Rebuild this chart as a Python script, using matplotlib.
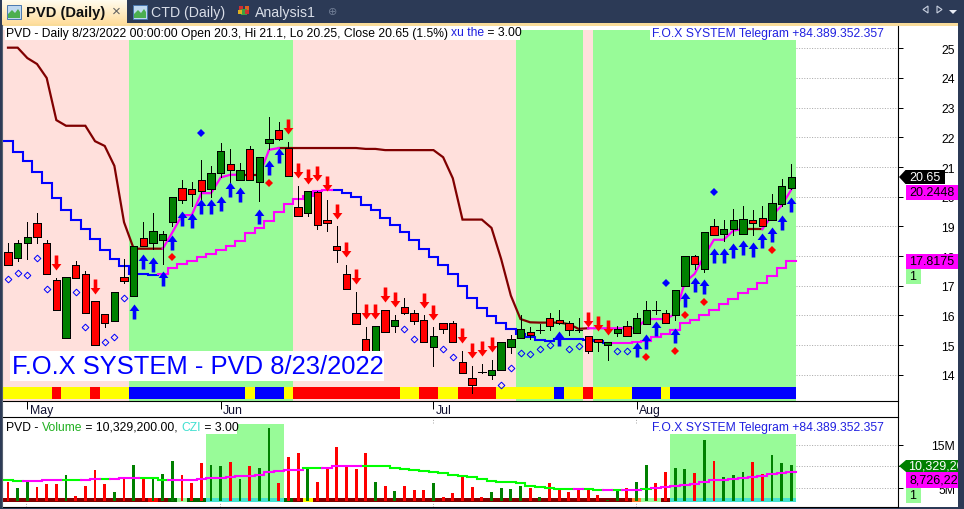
import numpy as np
import matplotlib
matplotlib.use("Agg")
import matplotlib.pyplot as plt
from matplotlib.path import Path
from matplotlib.patches import Rectangle, Polygon
from matplotlib.transforms import blended_transform_factory

plt.rcParams['font.family'] = ['Liberation Sans', 'DejaVu Sans']

# ---------- data ----------
months = ["May", "Jun", "Jul", "Aug"]
month_bars = [2, 22, 44, 65]
price_ticks = [14, 15, 16, 17, 18, 19, 20, 21, 22, 23, 24, 25]
vol_ticks = [5, 10, 15]
vol_tick_labels = ["5M", "10M", "15M"]

opens = [18.15,17.95,18.45,19.1,18.45,17.2,15.25,17.7,17.4,16.5,
 16.05,15.8,17.3,16.65,18.6,18.45,18.55,19.15,20.3,20.25,
 20.55,20.25,20.8,21.1,20.55,21.6,20.5,21.8,22.25,21.65,
 19.65,19.45,20.15,19.2,18.35,17.4,16.1,15.2,14.7,16.2,
 15.65,16.3,16.1,15.85,14.95,15.75,15.75,14.45,13.9,14.1,
 14.0,14.15,14.95,15.25,15.45,15.5,15.9,15.85,15.75,15.5,
 15.3,15.2,15.0,15.4,15.65,15.4,15.7,16.2,16.1,16.0,
 17.0,18.0,17.55,19.0,18.75,18.9,18.75,19.2,19.3,19.2,19.75,20.3]
closes = [17.7,18.45,18.65,18.65,17.4,16.2,17.3,17.25,16.1,15.0,
 15.75,16.8,17.15,18.35,18.35,18.85,18.75,20.0,19.9,20.1,
 20.2,20.8,21.55,20.9,20.9,20.55,21.35,21.95,21.95,20.7,
 19.35,20.2,19.05,19.1,18.2,16.9,15.7,14.7,15.65,15.45,
 15.85,16.1,15.8,15.1,15.3,15.55,15.1,14.05,13.65,14.1,
 14.15,15.1,15.2,15.55,15.35,15.5,15.65,15.75,15.5,15.5,
 14.8,15.1,15.1,15.55,15.3,15.9,16.2,16.2,15.75,16.85,
 18.0,17.75,18.8,18.7,18.9,19.2,19.25,19.1,19.0,19.8,20.35,20.65]
highs = [18.45,18.55,19.15,19.45,18.55,17.25,17.3,17.85,17.5,16.5,
 16.05,16.8,17.9,18.35,19.15,19.45,18.85,20.0,20.55,20.5,
 21.25,21.05,21.8,21.6,21.15,21.7,21.35,22.7,22.5,21.85,
 20.35,20.2,20.2,19.9,19.0,17.7,16.8,15.6,15.65,16.2,
 16.0,16.6,16.2,16.0,15.6,15.75,15.8,14.8,14.3,14.35,
 14.5,15.1,15.35,16.0,15.6,15.7,16.1,16.2,15.8,15.9,
 15.3,15.2,15.1,15.65,15.8,16.1,16.5,16.5,16.2,16.85,
 18.0,18.05,18.8,19.25,19.2,19.6,19.7,19.55,19.7,20.1,20.6,21.1]
lows = [17.7,17.85,17.9,18.45,17.4,16.2,15.25,17.25,16.1,15.0,
 15.6,15.8,17.1,16.65,18.35,18.25,17.75,19.0,19.8,19.7,
 19.7,20.0,20.65,20.5,20.55,20.55,19.85,21.6,21.9,20.7,
 19.35,19.35,18.9,18.85,17.8,16.9,15.7,14.7,14.7,15.45,
 15.45,16.05,15.7,15.1,14.3,15.4,15.1,14.05,13.4,14.05,
 13.85,14.15,14.75,15.25,15.2,15.4,15.5,15.7,15.35,15.45,
 14.75,14.8,14.5,15.3,15.3,15.4,15.7,16.05,15.75,15.85,
 17.0,17.55,17.45,18.7,18.5,18.7,18.75,18.7,19.0,19.2,19.7,20.25]

upper_line = [25.02,25.02,24.67,24.47,24.0,22.58,22.39,22.39,22.39,21.87,
 21.71,21.04,19.14,18.25,18.25,18.25,18.25,18.8,19.38,19.38,
 20.12,20.12,20.65,20.74,20.74,20.74,20.74,21.58,21.64,21.64,
 21.64,21.64,21.64,21.64,21.64,21.64,21.64,21.61,21.61,21.57,
 21.57,21.57,21.57,21.57,21.57,21.33,20.62,19.23,19.23,19.23,
 18.95,17.9,16.67,15.88,15.77,15.76,15.76,15.76,15.71,15.55,
 15.57,15.57,15.57,15.57,15.57,15.57,15.88,15.88,15.88,16.05,
 17.12,17.4,18.01,18.55,18.55,18.86,18.91,18.91,18.91,19.36,19.7,20.24]
lower_line = [21.89,21.52,21.2,20.84,20.45,19.96,19.56,19.23,18.91,18.58,
 18.22,17.9,17.66,17.4,17.4,17.36,17.4,17.6,17.73,17.85,
 17.96,18.07,18.22,18.33,18.52,18.78,18.95,19.17,19.47,19.75,
 19.92,20.03,20.2,20.23,20.23,20.13,19.99,19.72,19.54,19.29,
 19.05,18.81,18.54,18.25,17.98,17.71,17.4,17.0,16.59,16.25,
 15.98,15.75,15.55,15.38,15.27,15.19,15.15,15.21,15.21,15.21,
 15.19,15.15,15.07,15.07,15.07,15.12,15.15,15.27,15.38,15.51,
 15.74,15.86,16.03,16.2,16.39,16.56,16.75,16.89,17.08,17.32,17.59,17.82]

upper_dark_runs = [(0,16),(24,26),(28,60),(76,78)]
upper_pink_runs = [(16,24),(26,28),(60,76),(78,81)]
lower_blue_runs = [(0,15),(34,62)]
lower_pink_runs = [(16,33),(63,81)]

up_bars = [13,14,15,16,17,18,19,20,21,22,23,24,26,27,28,57,65,66,67,69,70,71,72,73,74,75,76,77,78,79,80,81]
up_tips = [16.38,18.07,17.98,17.51,18.71,19.53,19.44,19.92,19.92,20.03,20.48,20.32,19.59,21.24,21.64,
           15.47,15.12,15.38,15.8,15.57,16.78,17.29,17.23,18.27,18.27,18.43,18.54,18.46,18.78,18.97,19.38,20.0]
down_bars = [5,9,29,30,31,32,33,34,35,36,37,38,39,40,43,44,47,48,49,50,60,61,62]
down_tips = [17.54,16.72,22.11,20.63,20.43,20.53,20.2,19.25,17.97,17.06,15.88,15.88,16.46,16.29,16.25,15.85,
             15.07,14.58,14.65,14.78,15.62,15.49,15.35]
red_dia_bars = [17,27,66,69,70,72,79]
red_dia_vals = [17.97,20.46,14.6,14.82,16.03,16.46,18.22]
blue_dia_bars = [20,68,73]
blue_dia_vals = [22.14,17.1,20.17]
hollow_bars = [0,1,2,3,4,7,8,10,11,12,41,42,45,46,51,52,53,54,55,56,58,59,63,64]
hollow_vals = [17.24,17.43,17.36,17.95,16.89,16.79,15.61,15.11,15.29,16.59,15.55,15.21,14.87,14.6,
               13.66,14.24,14.74,14.71,14.87,15.0,14.87,14.98,14.82,14.82]

main_green_runs = [(13,29),(53,59),(61,81)]
strip_state = list("yyyyyryyyryyy"+"bbbbbbbbbbbb"+"y"+"bbb"+"y"+"rrrrrrrrrrr"+"yy"+"rr"+"yy"+"rrrr"+
                   "yyyyyy"+"b"+"yy"+"r"+"yyyy"+"bbb"+"y"+"bbbbbbbbbbbbb")

volume = [6.47,5.01,6.63,5.24,5.94,5.94,8.01,3.16,5.47,9.17,
 5.94,4.09,7.55,10.32,7.32,7.55,8.24,11.25,8.01,6.17,
 10.79,10.32,10.09,11.02,7.09,10.09,9.63,18.87,6.17,12.17,
 13.09,9.56,6.4,9.56,14.48,9.86,9.4,13.09,6.4,5.47,
 4.32,5.47,4.55,4.55,6.17,2.93,3.86,7.55,5.24,2.93,
 4.09,5.01,4.78,5.47,5.01,2.93,6.17,5.01,4.09,5.01,
 4.78,3.39,2.24,4.78,5.01,6.4,10.32,6.17,8.71,9.63,
 9.4,8.48,16.1,11.25,7.55,8.01,8.71,11.02,8.24,12.63,10.79,10.33]
vol_dir = list("rggrrrgrrr"+"rgrgrgggrr"+"rggrgrggrr"+"rgrrrrrrgr"+"grrrgrrrrr"+
               "ggggrgrrrr"+"rrggrggrrg"+"grgrgggrrggg")
vol_ma = [6.86,6.71,6.63,6.63,6.86,6.86,6.86,6.86,6.86,7.09,
 7.09,7.09,7.32,7.32,7.32,7.32,6.86,6.86,6.86,6.86,
 7.09,7.32,7.32,7.55,7.78,7.78,8.01,8.71,8.94,9.17,
 9.17,9.63,9.63,9.63,10.09,10.09,10.09,10.09,10.09,10.09,
 9.63,9.4,9.17,8.94,8.71,8.48,8.01,7.78,7.55,7.09,
 6.63,6.4,6.4,6.17,5.47,5.24,5.01,4.78,4.78,4.78,
 4.78,4.55,4.55,4.55,4.55,4.55,4.78,5.01,5.24,5.47,
 5.7,5.94,6.4,6.86,6.86,7.09,7.32,7.55,7.78,8.24,8.48,8.73]
vol_ma_lime_runs = [(0,1),(6,7),(10,10),(14,16),(31,32),(37,58),(60,61),(63,63),(66,66)]
vol_ma_pink_runs = [(2,5),(8,9),(11,13),(17,30),(33,36),(59,59),(62,62),(64,65),(67,81)]
vol_green_runs = [(21,28),(69,81)]
czi_state = list("d"*15+"r"+"d"+"g"+"l"+"gg"+"t"*8+"g"+"d"+"y"+"d"*33+"o"+"ll"+"d"+"t"*13)

# ---------- layout ----------
W, H = 964, 510
STEP = 9.67
X0 = 8.0
fig = plt.figure(figsize=(W/100, H/100), dpi=100, facecolor="#2C3A56")

def axpos(x0, y0, x1, y1, **kw):
    return fig.add_axes([x0/W, 1-y1/H, (x1-x0)/W, (y1-y0)/H], **kw)

def hide(ax):
    for s in ax.spines.values():
        s.set_visible(False)

bars = np.arange(len(opens))
xlim = ((3-X0)/STEP, (898-X0)/STEP)
price_lim = (13.12, 25.75)
vol_lim = (0.62, 21.18)

# base chrome
bg = axpos(0, 0, W, H, zorder=0)
bg.set_xlim(0, W); bg.set_ylim(H, 0); bg.axis("off")
bg.add_patch(Rectangle((2, 26), 956, 482, fc="white", ec="none"))
bg.add_patch(Rectangle((2, 24), 956, 2.5, fc="#F9DC9A", ec="none"))
grad = np.linspace(0, 1, 24).reshape(-1, 1, 1)
tab = np.array([1.0, 0.985, 0.93]) * (1-grad) + np.array([1.0, 0.87, 0.62]) * grad
bg.imshow(tab, extent=(2, 127, 25, 1), aspect="auto", zorder=1)
bg.set_xlim(0, W); bg.set_ylim(H, 0)

def chart_icon(a, x):
    a.add_patch(Rectangle((x, 6), 14, 14, fc="#BFD8F0", ec="#4A78B0", lw=0.7, zorder=3))
    a.add_patch(Polygon([(x+1, 19), (x+1, 15), (x+5, 11), (x+8, 14), (x+11, 10), (x+13, 13), (x+13, 19)],
                        fc="#4CAF50", ec="none", zorder=4))
chart_icon(bg, 7)
chart_icon(bg, 133)
bg.scatter([241, 247, 244, 240, 247], [9, 9, 13, 13, 13], s=[12, 12, 14, 8, 8],
           c=["#D03030", "#E06020", "#40A040", "#E0B020", "#D03030"], zorder=3, marker="s", linewidths=0)
bg.text(26, 13, "PVD (Daily)", fontsize=10.6, fontweight="bold", color="#101010", va="center")
bg.text(116.5, 12, "×", fontsize=11, color="#606060", va="center", ha="center")
bg.text(151, 13, "CTD (Daily)", fontsize=10.2, color="#D9DEE8", va="center")
bg.text(255, 13, "Analysis1", fontsize=10.2, color="#D9DEE8", va="center")
bg.text(333, 12, "⊕", fontsize=8, color="#6F7C94", va="center", ha="center", family="DejaVu Sans")
bg.add_patch(Polygon([(928, 7), (928, 14), (923, 10.5)], fc="none", ec="#C8D0E0", lw=0.8))
bg.add_patch(Polygon([(937, 7), (937, 14), (942, 10.5)], fc="none", ec="#C8D0E0", lw=0.8))
bg.add_patch(Polygon([(949, 11), (957, 11), (953, 15)], fc="#E8ECF4", ec="none"))

# ---------- main pane ----------
ax = axpos(3, 27, 898, 402, zorder=1, facecolor="none")
hide(ax)
ax.set_xlim(*xlim); ax.set_ylim(*price_lim)
ax.yaxis.tick_right()
ax.set_yticks(price_ticks)
ax.set_yticklabels([str(t) for t in price_ticks], fontsize=8.8)
ax.tick_params(axis="y", length=3.6, width=0.72, pad=37.5, color="black")
for lab in ax.get_yticklabels():
    lab.set_ha("right")
ax.set_xticks([])
ax.hlines(price_ticks, 81.5, xlim[1], colors="#AAAAAA", linestyles=(0, (1, 1.6)), lw=0.72, zorder=0.5)

band_top = 0.989
ax.axvspan(xlim[0], 81.5, ymin=0, ymax=band_top, fc="#FFE0DC", ec="none", zorder=1)
for a, b in main_green_runs:
    ax.axvspan(a-0.5, b+0.5, ymin=0, ymax=band_top, fc="#98FB98", ec="none", zorder=1.1)

strip_cols = {"y": "#FFFF00", "r": "#FF0000", "b": "#0000FF"}
ax.bar(bars, 0.40, bottom=13.19, width=1.0, color=[strip_cols[s] for s in strip_state],
       linewidth=0, zorder=1.5, antialiased=False)

def step_run(x, y, a, b):
    xs = np.repeat(np.arange(a, b+2)-0.5, 2)[1:-1]
    ys = np.repeat(np.asarray(y)[a:b+1], 2)
    return xs, ys

LW = 1.5
for a, b in upper_dark_runs:
    ax.plot(bars[a:b+1], upper_line[a:b+1], color="#800000", lw=1.6, zorder=2, solid_joinstyle="miter")
for a, b in upper_pink_runs:
    ax.plot(bars[a:b+1], upper_line[a:b+1], color="#FF00FF", lw=1.6, zorder=2, solid_joinstyle="miter")
for a, b in lower_blue_runs:
    ax.plot(*step_run(bars, lower_line, a, b), color="#0000FF", lw=LW, zorder=2, solid_joinstyle="miter")
for a, b in lower_pink_runs:
    ax.plot(*step_run(bars, lower_line, a, b), color="#FF00FF", lw=LW, zorder=2, solid_joinstyle="miter")

# candles
ax.vlines(bars, lows, highs, colors="black", lw=0.72, zorder=3, antialiased=False)
body_cols = ["#008000" if c > o else "#FF0000" for o, c in zip(opens, closes)]
ax.bar(bars, np.array(closes)-np.array(opens), bottom=opens, width=0.76, color=body_cols,
       edgecolor="black", linewidth=0.72, zorder=3.2, antialiased=False)

# signals
up_path = Path([(0, 0), (4.9, -6.5), (1.8, -6.5), (1.8, -15), (-1.8, -15), (-1.8, -6.5), (-4.9, -6.5), (0, 0)], closed=True)
down_path = Path([(0, 0), (4.9, 6.5), (1.8, 6.5), (1.8, 15), (-1.8, 15), (-1.8, 6.5), (-4.9, 6.5), (0, 0)], closed=True)
ax.plot(up_bars, up_tips, ls="", marker=up_path, ms=21.6, mfc="#0000FF", mew=0, zorder=4)
ax.plot(down_bars, down_tips, ls="", marker=down_path, ms=21.6, mfc="#FF0000", mew=0, zorder=4)
ax.plot(red_dia_bars, red_dia_vals, ls="", marker="D", ms=3.6, mfc="#FF0000", mew=0, zorder=4)
ax.plot(blue_dia_bars, blue_dia_vals, ls="", marker="D", ms=3.6, mfc="#0000FF", mew=0, zorder=4)
ax.plot(hollow_bars, hollow_vals, ls="", marker="D", ms=3.4, mfc="none", mec="#0000FF", mew=0.72, zorder=4)

# ---------- date strip ----------
dax = axpos(3, 402, 898, 418, zorder=1, facecolor="none")
hide(dax)
dax.set_xlim(*xlim); dax.set_ylim(0, 1)
dax.set_yticks([])
dax.set_xticks(month_bars)
dax.tick_params(axis="x", direction="in", top=True, bottom=False, labelbottom=False, length=5.8, width=0.72)
tr = blended_transform_factory(dax.transData, dax.transAxes)
for m, b in zip(months, month_bars):
    dax.annotate(m, xy=(b, 0.46), xycoords=tr, xytext=(1.6, 0), textcoords="offset points",
                 fontsize=8.8, va="center", color="#101030")

# ---------- volume pane ----------
vax = axpos(3, 419, 898, 508, zorder=1, facecolor="none")
hide(vax)
vax.set_xlim(*xlim); vax.set_ylim(*vol_lim)
vax.yaxis.tick_right()
vax.set_yticks(vol_ticks)
vax.set_yticklabels(vol_tick_labels, fontsize=8.8)
vax.tick_params(axis="y", length=3.6, width=0.72, pad=37.5)
for lab in vax.get_yticklabels():
    lab.set_ha("right")
vax.set_xticks([])
vax.hlines(vol_ticks, 81.5, xlim[1], colors="#AAAAAA", linestyles=(0, (1, 1.6)), lw=0.72, zorder=0.5)
vtr = blended_transform_factory(vax.transData, vax.transAxes)
for b in month_bars:
    vax.plot([b-0.1, b-0.1], [0, 0.05], transform=vtr, color="#AAAAAA", ls=(0, (1, 1.6)), lw=0.72, zorder=0.5)
    vax.plot([b-0.1, b-0.1], [0.94, 1.0], transform=vtr, color="#AAAAAA", ls=(0, (1, 1.6)), lw=0.72, zorder=0.5)
for a, b in vol_green_runs:
    vax.axvspan(a-0.5, b+0.5, ymin=0.056, ymax=0.933, fc="#98FB98", ec="none", zorder=1)
czi_cols = {"d": "#800000", "r": "#FF0000", "g": "#006400", "l": "#98FB98", "t": "#40E0D0",
            "y": "#FFFF00", "o": "#FF7F27"}
vax.bar(bars, 0.92, bottom=1.78, width=1.0, color=[czi_cols[s] for s in czi_state], linewidth=0,
        zorder=1.5, antialiased=False)
vol_base = 2.0
vol_cols = ["#FF0000" if d == "r" else "#008000" for d in vol_dir]
vax.bar(bars, np.array(volume)-vol_base, bottom=vol_base, width=0.29, color=vol_cols, linewidth=0,
        zorder=2, antialiased=False)
for a, b in vol_ma_lime_runs:
    vax.plot(*step_run(bars, vol_ma, a, b), color="#00FF00", lw=LW, zorder=3, solid_joinstyle="miter")
for a, b in vol_ma_pink_runs:
    vax.plot(*step_run(bars, vol_ma, a, b), color="#FF00FF", lw=LW, zorder=3, solid_joinstyle="miter")

# ---------- overlay ----------
ov = axpos(0, 0, W, H, zorder=5, facecolor="none")
ov.set_xlim(0, W); ov.set_ylim(H, 0); ov.axis("off")

ov.plot([898, 898], [27, 508], color="black", lw=0.8)
for yy in (401.5, 418, 508):
    ov.plot([3, 898], [yy, yy], color="black", lw=0.8)
ov.plot([1.6, 1.6], [26, 508], color="#556070", lw=0.8)

TXT = 8.75
def text_runs(x, y, runs, size=TXT):
    r = fig.canvas.get_renderer()
    for s, c in runs:
        t = ov.text(x, y, s, fontsize=size, color=c, va="center", ha="left", zorder=6)
        x += t.get_window_extent(r).width

ov.add_patch(Rectangle((5, 27), 515, 14, fc="white", ec="none", zorder=5))
ov.add_patch(Rectangle((650, 27), 235, 14, fc="white", ec="none", zorder=5))
text_runs(6, 33.5, [("PVD - Daily 8/23/2022 00:00:00 Open 20.3, Hi 21.1, Lo 20.25, Close 20.65 (1.5%) ", "black"),
                    ("xu the", "#1E1EE0"), (" = 3.00", "black")], size=8.7)
ov.text(652, 33.5, "F.O.X SYSTEM Telegram +84.389.352.357", fontsize=TXT, color="#2020E0", va="center", zorder=6)

ov.add_patch(Rectangle((5, 421), 232, 14, fc="white", ec="none", zorder=5))
ov.add_patch(Rectangle((650, 421), 235, 14, fc="white", ec="none", zorder=5))
text_runs(6, 428, [("PVD - ", "black"), ("Volume", "#20B020"), (" = 10,329,200.00, ", "black"),
                   ("CZI", "#40E0D0"), (" = 3.00", "black")])
ov.text(652, 428, "F.O.X SYSTEM Telegram +84.389.352.357", fontsize=TXT, color="#2020E0", va="center", zorder=6)

ov.add_patch(Rectangle((10, 352), 374, 30, fc="white", ec="none", zorder=5))
ov.text(12, 367.5, "F.O.X SYSTEM - PVD 8/23/2022", fontsize=18.35, color="#0000FF", va="center", zorder=6)

def flag(yc, txt, fc, tc, h=7):
    ov.add_patch(Polygon([(899, yc), (905.5, yc-h), (945, yc-h), (945, yc+h), (905.5, yc+h)],
                         fc=fc, ec="none", zorder=7))
    ov.text(909.5, yc, txt, fontsize=9, color=tc, va="center", zorder=8)

def box(y0, y1, txt, fc, x1=960):
    ov.add_patch(Rectangle((906, y0), x1-906, y1-y0, fc=fc, ec="none", zorder=7))
    ov.text(909.5, (y0+y1)/2, txt, fontsize=9, color="black", va="center", zorder=8)

flag(178, "20.65", "black", "white")
box(186, 201, "20.2448", "#FF00FF")
box(255, 270, "17.8175", "#FF00FF")
box(270, 285, "1", "#98FB98", x1=921)

ov.add_patch(Polygon([(899, 467), (906, 461), (962, 461), (962, 473), (906, 473)], fc="#008000", ec="none", zorder=7))
ov.text(908.5, 467, "10,329,200", fontsize=9, color="white", va="center", zorder=8)
box(473, 489, "8,726,220", "#FF00FF")
box(489, 504, "1", "#98FB98", x1=921)

# outer frame on top so long labels are cut at the window edge
ov.add_patch(Rectangle((958, 0), 6, H, fc="#2C3A56", ec="none", zorder=20))
ov.add_patch(Rectangle((0, 509), W, 1, fc="#2C3A56", ec="none", zorder=20))

fig.savefig("out.png", dpi=100, facecolor=fig.get_facecolor())
